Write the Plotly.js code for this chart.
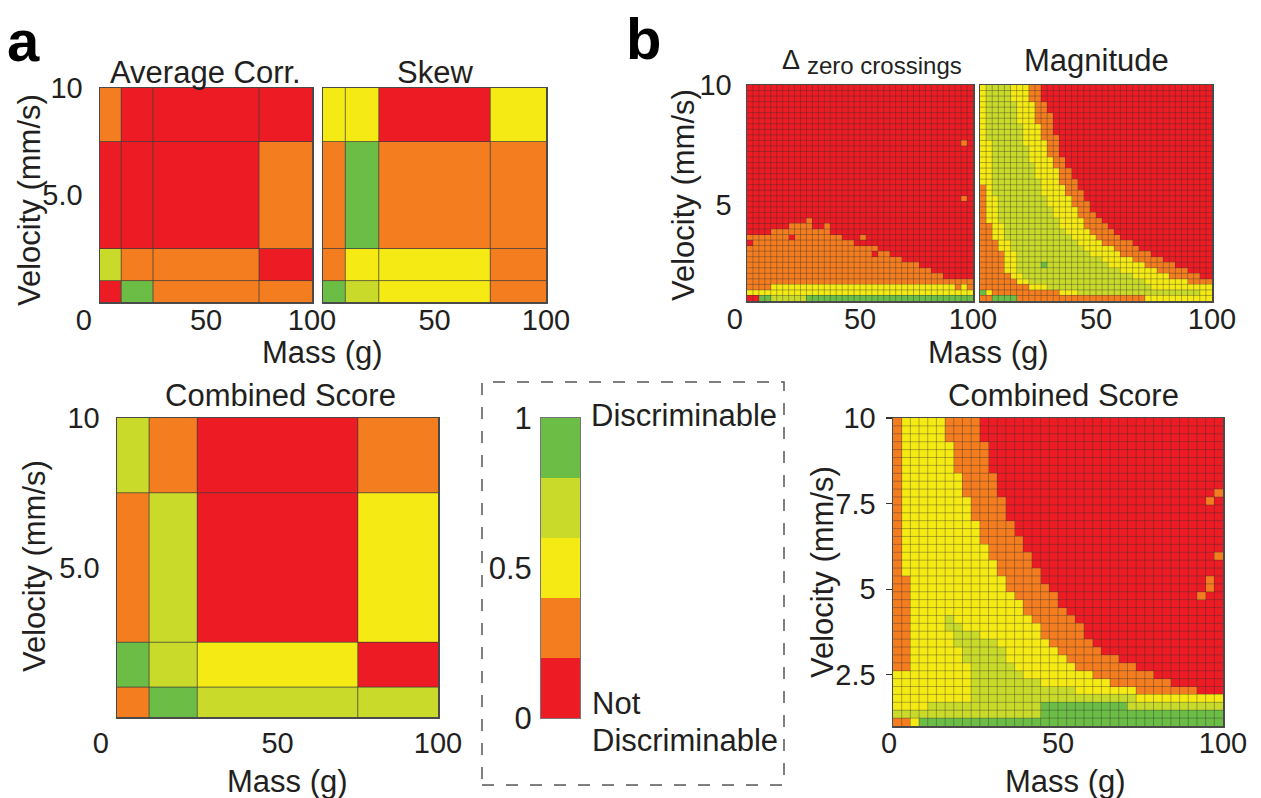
<!DOCTYPE html>
<html>
<head>
<meta charset="utf-8">
<script src="https://cdn.plot.ly/plotly-3.0.1.min.js"></script>
<style>
html,body{margin:0;padding:0;background:#ffffff;}
#chart{width:1261px;height:798px;}
</style>
</head>
<body>
<div id="chart"></div>
<script>
// ---------------- DATA ----------------
// Score levels: 0 = red, 1 = orange, 2 = yellow, 3 = yellow-green, 4 = green
const levelColors = ['#ED1C24', '#F47D20', '#F5EA14', '#C9DA2A', '#6BBD45'];

// Panel a: coarse grids (bin edges), rows listed bottom -> top, columns left -> right
const massEdgesA = [0, 10, 25, 75, 100];
const velEdgesA = [0, 1, 2.5, 7.5, 10];
const avgCorr = [
  [0, 4, 1, 1],
  [3, 1, 1, 0],
  [0, 0, 0, 1],
  [1, 0, 0, 0]
];
const skew = [
  [4, 3, 2, 1],
  [1, 2, 2, 1],
  [1, 4, 1, 1],
  [2, 2, 0, 2]
];
const combinedA = [
  [1, 4, 3, 3],
  [4, 3, 2, 0],
  [1, 3, 0, 2],
  [3, 1, 0, 1]
];

// Legend scale
const legendEdges = [0, 0.2, 0.4, 0.6, 0.8, 1];
const legendLevels = [0, 1, 2, 3, 4];
const legendTicks = [0, 0.5, 1];
const legendTickText = ['0', '0.5', '1'];

// Panel b: fine grids, 38 mass columns x 39 velocity rows.
// Each row is run-length coded "level x count", rows listed top (10 mm/s) -> bottom.
const massRangeB = [0, 100];
const velRangeB = [1, 10];
const zeroCrossRows = [
  "0x38", "0x38", "0x38", "0x38", "0x38", "0x38", "0x38", "0x38", "0x38", "0x38",
  "0x36 1x1 0x1",
  "0x38", "0x38", "0x38", "0x38", "0x38", "0x38", "0x38", "0x38", "0x38",
  "0x36 1x1 0x1",
  "0x38", "0x38", "0x38",
  "0x10 1x1 0x27",
  "0x7 1x4 0x2 1x1 0x24",
  "0x4 1x10 0x24",
  "1x7 0x1 1x8 0x3 1x1 0x18",
  "0x1 1x17 0x20",
  "1x22 0x16",
  "1x21 0x1 1x2 0x14",
  "1x26 0x12",
  "1x29 0x9",
  "1x31 0x7",
  "1x33 0x5",
  "1x38",
  "1x4 2x31 1x1 2x1 1x1",
  "2x38",
  "0x2 4x2 3x6 4x28"
];
const magnitudeRows = [
  "2x1 3x4 2x3 1x2 0x28",
  "2x1 3x4 2x3 1x2 0x28",
  "2x1 3x4 2x3 1x2 0x28",
  "2x1 3x5 2x3 1x2 0x27",
  "2x1 3x5 2x3 1x2 0x27",
  "2x1 3x5 2x3 1x3 0x26",
  "2x1 3x5 2x3 1x3 0x26",
  "2x1 3x6 2x3 1x2 0x26",
  "2x1 3x6 2x3 1x2 0x26",
  "2x1 3x6 2x3 1x3 0x25",
  "2x2 3x5 2x4 1x2 0x25",
  "2x2 3x6 2x3 1x2 0x25",
  "2x2 3x6 2x3 1x2 0x25",
  "2x2 3x6 2x4 1x2 0x24",
  "2x2 3x7 2x3 1x2 0x24",
  "2x2 3x7 2x4 1x2 0x23",
  "2x2 3x7 2x4 1x2 0x23",
  "2x2 3x8 2x3 1x3 0x22",
  "1x1 2x1 3x8 2x4 1x2 0x22",
  "1x1 2x1 3x8 2x4 1x3 0x21",
  "1x1 2x2 3x8 2x4 1x2 0x21",
  "1x1 2x2 3x8 2x4 1x3 0x20",
  "1x1 2x2 3x9 2x4 1x2 0x20",
  "1x1 2x2 3x9 2x4 1x3 0x19",
  "1x1 2x2 3x10 2x4 1x3 0x18",
  "1x2 2x2 3x9 2x4 1x4 0x17",
  "1x2 2x2 3x10 2x4 1x4 0x16",
  "1x2 2x2 3x11 2x4 1x4 0x15",
  "1x3 2x2 3x11 2x4 1x5 0x13",
  "1x3 2x2 3x12 2x5 1x4 0x12",
  "1x4 2x2 3x12 2x5 1x5 0x10",
  "1x4 2x2 3x14 2x5 1x5 0x8",
  "1x4 2x2 3x4 4x1 3x10 2x6 1x5 0x6",
  "1x4 2x2 3x17 2x6 1x5 0x4",
  "1x5 2x2 3x18 2x6 1x5 0x2",
  "1x6 2x2 3x19 2x7 1x4",
  "1x8 2x3 3x17 2x10",
  "4x1 2x1 1x11 2x3 3x20 2x2",
  "1x2 4x4 1x21 2x11"
];
const combinedBRows = [
  "1x1 2x5 1x4 0x28",
  "1x1 2x5 1x4 0x28",
  "1x1 2x5 1x4 0x28",
  "1x1 2x6 1x4 0x27",
  "1x1 2x6 1x4 0x27",
  "1x1 2x6 1x4 0x27",
  "1x1 2x6 1x4 0x27",
  "1x1 2x7 1x4 0x26",
  "1x1 2x7 1x4 0x26",
  "1x1 2x7 1x4 0x25 1x1",
  "1x1 2x8 1x4 0x23 1x1 0x1",
  "1x1 2x8 1x4 0x25",
  "1x1 2x8 1x4 0x25",
  "1x1 2x9 1x4 0x24",
  "1x1 2x9 1x4 0x24",
  "1x1 2x9 1x5 0x23",
  "1x1 2x10 1x4 0x23",
  "1x1 2x10 1x5 0x21 1x1",
  "1x1 2x11 1x4 0x22",
  "1x1 2x11 1x5 0x21",
  "1x2 2x11 1x4 0x19 1x1 0x1",
  "1x2 2x11 1x5 0x18 1x1 0x1",
  "1x2 2x12 1x5 0x16 1x1 0x2",
  "1x2 2x13 1x4 0x19",
  "1x2 2x13 1x5 0x18",
  "1x2 2x4 3x1 2x9 1x5 0x17",
  "1x2 2x4 3x2 2x9 1x5 0x16",
  "1x2 2x5 3x3 2x7 1x5 0x16",
  "1x2 2x5 3x5 2x6 1x5 0x15",
  "1x2 2x6 3x5 2x6 1x5 0x14",
  "1x2 2x6 3x5 2x7 1x6 0x12",
  "1x2 2x7 3x5 2x7 1x7 0x10",
  "2x9 3x6 2x8 1x7 0x8",
  "2x9 3x8 2x8 1x7 0x6",
  "2x9 3x12 2x7 1x7 0x3",
  "2x9 3x19 2x10",
  "2x4 3x13 4x10 3x11",
  "3x17 4x21",
  "1x2 2x1 4x35"
];

// ---------------- HELPERS ----------------
const W = 1261, H = 798;
const FONT = 'Liberation Sans, Arial, Helvetica, sans-serif';
const TXT = '#231f20';
const TICK = 29, TITLE = 31;
function xd(a, b) { return [a / W, b / W]; }
function yd(top, bottom) { return [1 - bottom / H, 1 - top / H]; }
function px(x) { return x / W; }
function py(y) { return 1 - y / H; }

function decodeRow(s) {
  const out = [];
  s.trim().split(/\s+/).forEach(tok => {
    const parts = tok.split('x').map(Number);
    for (let i = 0; i < parts[1]; i++) out.push(parts[0]);
  });
  return out;
}
function decodeGrid(rows) { return rows.map(decodeRow).reverse(); } // bottom -> top

const colorscale = [];
levelColors.forEach((c, i) => {
  colorscale.push([i / levelColors.length, c]);
  colorscale.push([(i + 1) / levelColors.length, c]);
});

function heatCoarse(z, xe, ye, ax) {
  return {
    type: 'heatmap', z: z, x: xe, y: ye, xaxis: 'x' + ax, yaxis: 'y' + ax,
    colorscale: colorscale, zmin: -0.5, zmax: 4.5, showscale: false, hoverinfo: 'skip'
  };
}
function heatFine(rows, ax) {
  const z = decodeGrid(rows);
  const nx = z[0].length, ny = z.length;
  const dx = (massRangeB[1] - massRangeB[0]) / nx;
  const dy = (velRangeB[1] - velRangeB[0]) / ny;
  return {
    type: 'heatmap', z: z, x0: massRangeB[0] + dx / 2, dx: dx, y0: velRangeB[0] + dy / 2, dy: dy,
    xaxis: 'x' + ax, yaxis: 'y' + ax,
    colorscale: colorscale, zmin: -0.5, zmax: 4.5, showscale: false, hoverinfo: 'skip'
  };
}
function gridLines(xe, ye, ax, color, width) {
  const xs = [], ys = [];
  for (let i = 1; i < xe.length - 1; i++) { xs.push(xe[i], xe[i], null); ys.push(ye[0], ye[ye.length - 1], null); }
  for (let j = 1; j < ye.length - 1; j++) { xs.push(xe[0], xe[xe.length - 1], null); ys.push(ye[j], ye[j], null); }
  return {
    type: 'scatter', mode: 'lines', x: xs, y: ys, xaxis: 'x' + ax, yaxis: 'y' + ax,
    line: { color: color, width: width }, hoverinfo: 'skip', showlegend: false
  };
}
function fineEdges(rows) {
  const nx = decodeRow(rows[0]).length, ny = rows.length;
  const xe = [], ye = [];
  for (let i = 0; i <= nx; i++) xe.push(massRangeB[0] + i * (massRangeB[1] - massRangeB[0]) / nx);
  for (let j = 0; j <= ny; j++) ye.push(velRangeB[0] + j * (velRangeB[1] - velRangeB[0]) / ny);
  return [xe, ye];
}

// ---------------- TRACES ----------------
const fineLine = 'rgba(45,45,45,0.45)';
const coarseLine = 'rgba(60,60,60,0.75)';
const eZ = fineEdges(zeroCrossRows), eM = fineEdges(magnitudeRows), eC = fineEdges(combinedBRows);

const data = [
  heatCoarse(avgCorr, massEdgesA, velEdgesA, ''),
  gridLines(massEdgesA, velEdgesA, '', coarseLine, 1),
  heatCoarse(skew, massEdgesA, velEdgesA, '2'),
  gridLines(massEdgesA, velEdgesA, '2', coarseLine, 1),
  heatCoarse(combinedA, massEdgesA, velEdgesA, '3'),
  gridLines(massEdgesA, velEdgesA, '3', coarseLine, 1),
  {
    type: 'heatmap', z: legendLevels.map(v => [v]), x: [0, 1], y: legendEdges,
    xaxis: 'x4', yaxis: 'y4', colorscale: colorscale, zmin: -0.5, zmax: 4.5, showscale: false, hoverinfo: 'skip'
  },
  heatFine(zeroCrossRows, '5'),
  gridLines(eZ[0], eZ[1], '5', fineLine, 0.8),
  heatFine(magnitudeRows, '6'),
  gridLines(eM[0], eM[1], '6', fineLine, 0.8),
  heatFine(combinedBRows, '7'),
  gridLines(eC[0], eC[1], '7', fineLine, 0.8)
];

// ---------------- LAYOUT ----------------
const NB = '\u00a0';
function xax(dom, anchor, vals, text, standoff, extra) {
  return Object.assign({
    domain: dom, anchor: anchor, range: [0, 100], tickvals: vals, ticktext: text,
    showgrid: false, zeroline: false, showline: true, mirror: true, linecolor: '#4a4a4a', linewidth: 1.5,
    ticks: '', tickfont: { size: TICK, color: TXT, family: FONT }, ticklabelstandoff: standoff, fixedrange: true
  }, extra || {});
}
function yax(dom, anchor, range, vals, text, standoff, extra) {
  return Object.assign({
    domain: dom, anchor: anchor, range: range, tickvals: vals, ticktext: text,
    showgrid: false, zeroline: false, showline: true, mirror: true, linecolor: '#4a4a4a', linewidth: 1.5,
    ticks: '', tickfont: { size: TICK, color: TXT, family: FONT }, ticklabelstandoff: standoff, fixedrange: true
  }, extra || {});
}

function ann(text, x, y, size, extra) {
  return Object.assign({
    text: text, x: px(x), y: py(y), xref: 'paper', yref: 'paper', showarrow: false,
    xanchor: 'center', yanchor: 'middle', font: { size: size, color: TXT, family: FONT }
  }, extra || {});
}

const layout = {
  width: W, height: H,
  margin: { l: 0, r: 0, t: 0, b: 0, pad: 0 },
  paper_bgcolor: '#ffffff', plot_bgcolor: '#ffffff',
  showlegend: false, hovermode: false,
  font: { family: FONT, color: TXT },

  xaxis: xax(xd(100, 312), 'y', [0, 50, 100], ['0' + NB + NB + NB + NB, '50', '100'], -8),
  yaxis: yax(yd(88, 302), 'x', [0, 10], [5, 10], ['5.0', '10'], 10),
  xaxis2: xax(xd(323, 546), 'y2', [50, 100], ['50', '100'], -8),
  yaxis2: yax(yd(88, 302), 'x2', [0, 10], [], [], 0, { showticklabels: false }),
  xaxis3: xax(xd(117, 438), 'y3', [0, 50, 100], ['0' + NB + NB + NB + NB, '50', '100'], 0),
  yaxis3: yax(yd(418, 717), 'x3', [0, 10], [5, 10], ['5.0', '10'], 10),
  xaxis4: xax(xd(541, 580), 'y4', [], [], 0, { range: [0, 1], showticklabels: false, linecolor: '#777', linewidth: 1 }),
  yaxis4: yax(yd(418, 718), 'x4', [0, 1], legendTicks, legendTickText, 2, { linecolor: '#777', linewidth: 1, tickfont: { size: TITLE, color: TXT, family: FONT } }),
  xaxis5: xax(xd(747, 973), 'y5', [0, 50, 100], ['0' + NB + NB + NB, '50', '100'], -8),
  yaxis5: yax(yd(85, 301), 'x5', velRangeB, [5, 10], ['5', '10'], 8),
  xaxis6: xax(xd(980, 1212), 'y6', [50, 100], ['50', '100'], -8),
  yaxis6: yax(yd(85, 301), 'x6', velRangeB, [], [], 0, { showticklabels: false }),
  xaxis7: xax(xd(893, 1223), 'y7', [0, 50, 100], ['0' + NB, '50', '100'], -9),
  yaxis7: yax(yd(418, 726), 'x7', velRangeB, [2.5, 5, 7.5, 10], ['2.5', '5', '7.5', '10'], 4,
    { ticks: 'outside', ticklen: 6, tickcolor: '#333', tickwidth: 1.2 }),

  shapes: [
    {
      type: 'rect', xref: 'paper', yref: 'paper', x0: px(482), x1: px(784), y0: py(785), y1: py(382),
      line: { color: '#555555', width: 1.5, dash: '12px,12px' }, fillcolor: 'rgba(0,0,0,0)'
    }
  ],

  annotations: [
    ann('a', 24, 40, 58, { font: { size: 58, color: '#000', family: FONT, weight: 'bold' } }),
    ann('b', 643, 38, 58, { font: { size: 58, color: '#000', family: FONT, weight: 'bold' } }),

    ann('Average Corr.', 205, 73, TITLE),
    ann('Skew', 435, 73, TITLE),
    ann('Mass (g)', 322, 353, TITLE),
    ann('Velocity (mm/s)', 29, 200, TITLE, { textangle: -90 }),

    ann('Combined Score', 280, 395, TITLE),
    ann('Mass (g)', 287, 781, TITLE),
    ann('Velocity (mm/s)', 34, 566, TITLE, { textangle: -90 }),

    ann('Discriminable', 589, 415, TITLE, { xanchor: 'left' }),
    ann('Not', 590, 703, TITLE, { xanchor: 'left' }),
    ann('Discriminable', 590, 740, TITLE, { xanchor: 'left' }),

    ann('\u0394', 791, 60, 27),
    ann('zero crossings', 885, 66, 24),
    ann('Magnitude', 1096, 60, TITLE),
    ann('Mass (g)', 988, 353, TITLE),
    ann('Velocity (mm/s)', 683, 195, TITLE, { textangle: -90 }),

    ann('Combined Score', 1063, 395, TITLE),
    ann('Mass (g)', 1065, 781, TITLE),
    ann('Velocity (mm/s)', 822, 572, TITLE, { textangle: -90 })
  ]
};

Plotly.newPlot('chart', data, layout, { staticPlot: true, displayModeBar: false });
</script>
</body>
</html>
